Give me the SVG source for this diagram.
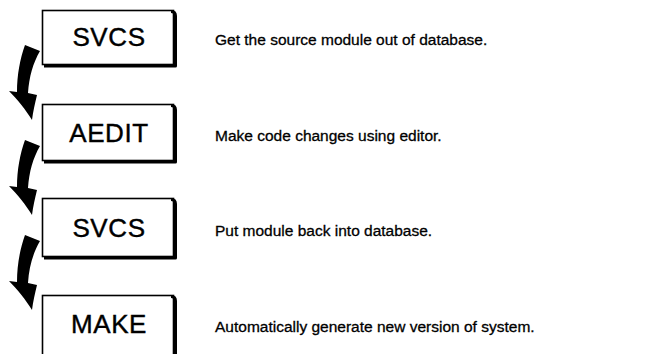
<svg xmlns="http://www.w3.org/2000/svg" width="660" height="354" viewBox="0 0 660 354">
<style>
.frame{fill:#fff;stroke:#000;stroke-width:1.6}
.shadow{fill:none;stroke:#000;stroke-width:3;stroke-linejoin:round}
.lbl{font-family:"Liberation Sans",Arial,sans-serif;font-size:26px;letter-spacing:0.6px;fill:#000;stroke:#000;stroke-width:0.4;text-anchor:middle}
.desc{font-family:"Liberation Sans",Arial,sans-serif;font-size:15.5px;fill:#000;stroke:#000;stroke-width:0.3}
.arrow{fill:#000;stroke:none}
</style>
<defs>
<path id="arr" d="M25,45 L40,51 C33,63 29,77 28,93 L37,95 C35,103 33,112 32,120 C26,110 17,99 9,91 L17,92 C17,75 20,59 25,45 Z"/>
</defs>
<rect width="660" height="354" fill="#fff"/>
<g id="connectors" class="arrow">
<use href="#arr"/>
<use href="#arr" transform="translate(0,95)"/>
<use href="#arr" transform="translate(0,190)"/>
</g>
<g id="node-svcs1">
<rect class="frame" x="42.5" y="10.5" width="131" height="54"/>
<path class="shadow" d="M171,11.5 Q175.5,11.5 175.5,16 L175.5,66 L44,66"/>
<text class="lbl" x="109" y="46">SVCS</text>
<text class="desc" x="215" y="45">Get the source module out of database.</text>
</g>
<g id="node-aedit">
<rect class="frame" x="42.5" y="104.5" width="131" height="56"/>
<path class="shadow" d="M171,105.5 Q175.5,105.5 175.5,110 L175.5,162 L44,162"/>
<text class="lbl" x="109" y="142">AEDIT</text>
<text class="desc" x="215" y="141">Make code changes using editor.</text>
</g>
<g id="node-svcs2">
<rect class="frame" x="42.5" y="198.5" width="131" height="58"/>
<path class="shadow" d="M171,199.5 Q175.5,199.5 175.5,204 L175.5,258 L44,258"/>
<text class="lbl" x="109" y="237">SVCS</text>
<text class="desc" x="215" y="236">Put module back into database.</text>
</g>
<g id="node-make">
<rect class="frame" x="42.5" y="295.5" width="131" height="62"/>
<path class="shadow" d="M171,296.5 Q175.5,296.5 175.5,301 L175.5,356"/>
<text class="lbl" x="109" y="333">MAKE</text>
<text class="desc" x="215" y="332">Automatically generate new version of system.</text>
</g>
</svg>
